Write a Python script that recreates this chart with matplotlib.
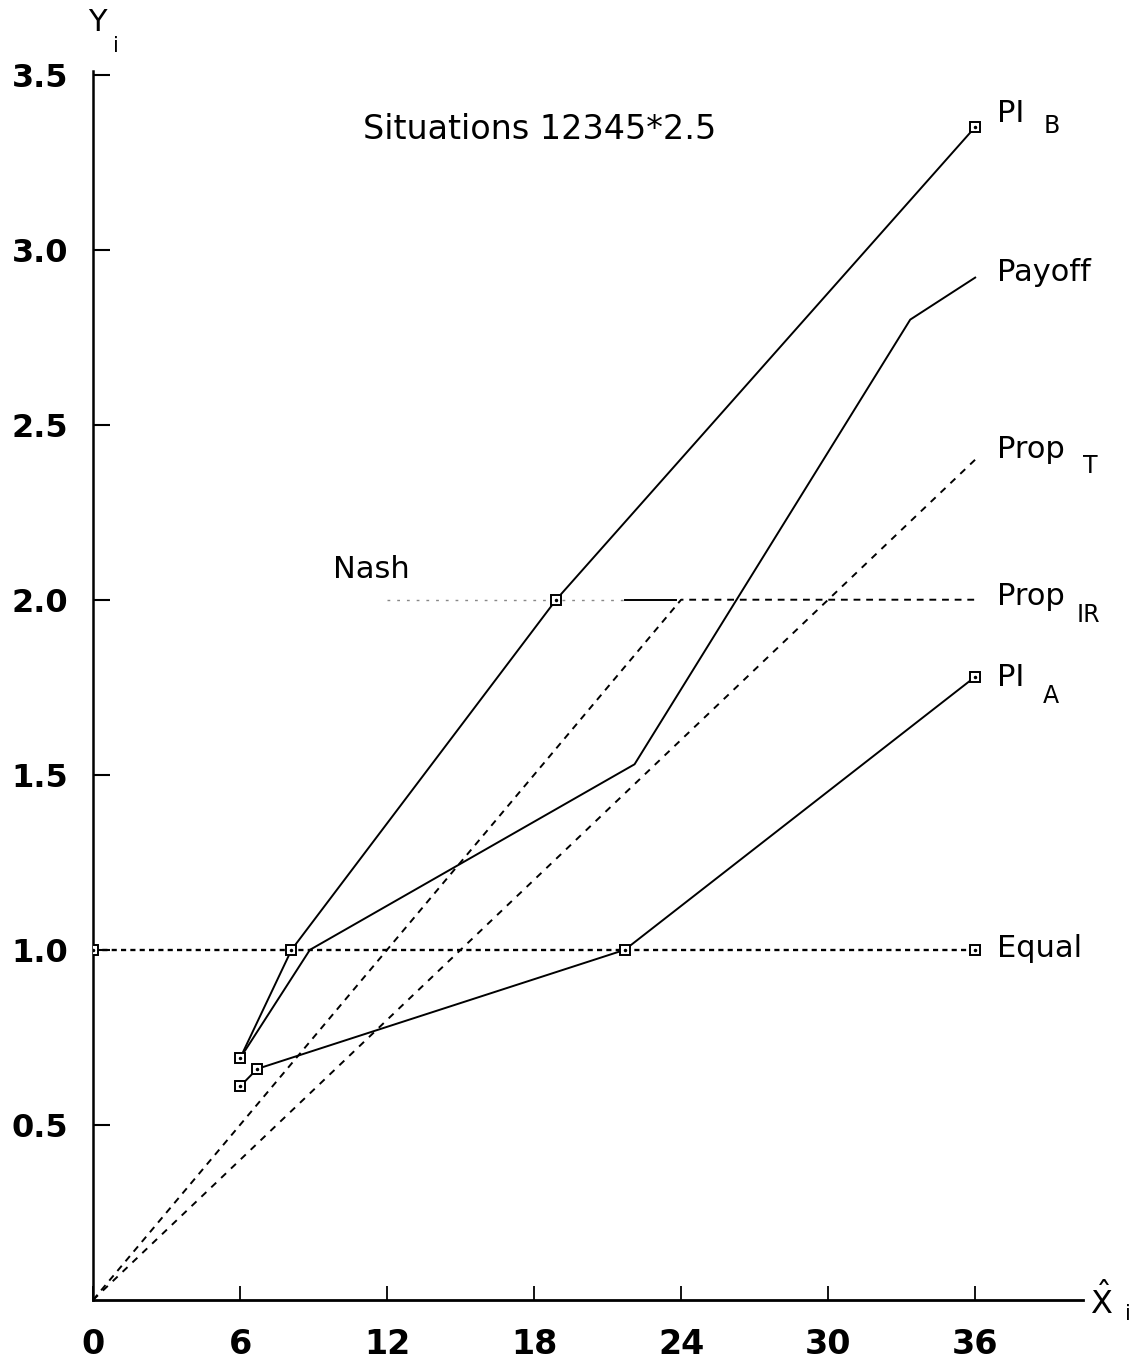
import matplotlib
matplotlib.use("Agg")
import matplotlib.pyplot as plt

plt.rcParams["font.family"] = ["DejaVu Sans"]
plt.rcParams["mathtext.fontset"] = "dejavusans"

# data
pib_x = [6.0, 8.1, 18.9, 36.0]
pib_y = [0.69, 1.0, 2.0, 3.35]

payoff_x = [6.0, 8.85, 22.1, 33.35, 36.0]
payoff_y = [0.69, 1.0, 1.53, 2.80, 2.92]

pia_x = [6.0, 6.7, 21.7, 36.0]
pia_y = [0.61, 0.66, 1.0, 1.78]

prop_t_x = [0.0, 36.0]
prop_t_y = [0.0, 2.40]

prop_ir_x = [0.0, 24.0, 36.0]
prop_ir_y = [0.0, 2.0, 2.0]

equal_x = [0.0, 36.0]
equal_y = [1.0, 1.0]
equal_mark_x = [0.0, 36.0]

nash_x = [12.0, 21.7, 23.8]
nash_y = [2.0, 2.0, 2.0]

x_ticks = [0, 6, 12, 18, 24, 30, 36]
y_ticks = [0.5, 1.0, 1.5, 2.0, 2.5, 3.0, 3.5]
y_tick_labels = ["0.5", "1.0", "1.5", "2.0", "2.5", "3.0", "3.5"]

W, H = 1141, 1368
fig = plt.figure(figsize=(W / 100, H / 100), dpi=100)
ax = fig.add_axes([93 / W, 68 / H, (1083 - 93) / W, (1300 - 71) / H])
ax.set_xlim(0, 40.4)
ax.set_ylim(0, 3.51)

lw = 1.4
mk = dict(marker="s", markersize=7, markerfacecolor="white",
          markeredgecolor="black", markeredgewidth=1.4)


def marks(xs, ys):
    ax.plot(xs, ys, linestyle="None", zorder=5, **mk)
    ax.plot(xs, ys, linestyle="None", marker=".", markersize=3,
            color="black", zorder=6)


# solid lines
ax.plot(pib_x, pib_y, color="black", lw=lw, zorder=3)
marks(pib_x, pib_y)
ax.plot(payoff_x, payoff_y, color="black", lw=lw, zorder=3)
ax.plot(pia_x, pia_y, color="black", lw=lw, zorder=3)
marks(pia_x, pia_y)

# dashed lines
ax.plot(prop_t_x, prop_t_y, color="black", lw=lw, dashes=(3.5, 3.5), zorder=2)
ax.plot(prop_ir_x, prop_ir_y, color="black", lw=lw, dashes=(3.5, 3), zorder=2)
ax.plot(equal_x, equal_y, color="black", lw=lw * 1.2, dashes=(2.2, 1.8), zorder=2)
marks(equal_mark_x, equal_y)

# Nash
ax.plot(nash_x[:2], nash_y[:2], color="#888888", lw=1.0, dashes=(2, 5), zorder=1)
ax.plot(nash_x[1:], nash_y[1:], color="black", lw=lw, zorder=1)

# axes styling
for s in ["top", "right"]:
    ax.spines[s].set_visible(False)
ax.spines["left"].set_linewidth(1.8)
ax.spines["bottom"].set_linewidth(2.0)

ax.set_xticks(x_ticks)
ax.set_yticks(y_ticks)
ax.set_yticklabels(y_tick_labels)
ax.tick_params(axis="x", direction="in", length=10, width=1.3,
               labelsize=24, pad=20)
ax.tick_params(axis="y", direction="in", length=12, width=1.5,
               labelsize=23, pad=18)
for t in ax.get_xticklabels() + ax.get_yticklabels():
    t.set_fontweight("bold")

# axis labels
ax.text(-0.2, 3.623, "Y", fontsize=22, ha="left", va="baseline", clip_on=False)
ax.text(0.82, 3.563, "i", fontsize=15, ha="left", va="baseline", clip_on=False)
ax.text(40.7, -0.04, r"$\hat{\mathrm{X}}$", fontsize=23, ha="left",
        va="baseline", clip_on=False)
ax.text(42.1, -0.057, "i", fontsize=15, ha="left", va="baseline", clip_on=False)

# title inside the plot
ax.text(11.0, 3.317, "Situations 12345*2.5", fontsize=24, ha="left",
        va="baseline")

# line labels
lab = dict(fontsize=22, ha="left", va="baseline", clip_on=False)
sub = dict(fontsize=17, ha="left", va="baseline", clip_on=False)
ax.text(36.9, 3.363, "PI", **lab)
ax.text(38.78, 3.334, "B", **sub)
ax.text(36.9, 2.909, "Payoff", **lab)
ax.text(36.9, 2.406, "Prop", **lab)
ax.text(40.4, 2.363, "T", **sub)
ax.text(36.9, 1.986, "Prop", **lab)
ax.text(40.16, 1.937, "IR", **sub)
ax.text(36.9, 1.754, "PI", **lab)
ax.text(38.78, 1.706, "A", **sub)
ax.text(36.9, 0.98, "Equal", **lab)
ax.text(9.8, 2.063, "Nash", **lab)

fig.savefig("out.png", dpi=100)
